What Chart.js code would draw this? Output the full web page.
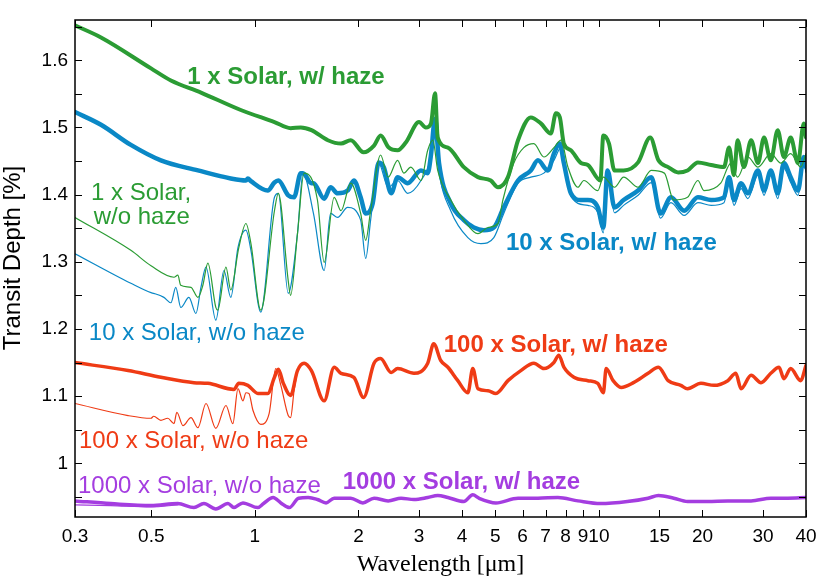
<!DOCTYPE html>
<html>
<head>
<meta charset="utf-8">
<title>Transit depth spectra</title>
<script src="https://cdn.jsdelivr.net/npm/chart.js@4.4.1/dist/chart.umd.min.js"></script>
<style>
  body { margin: 0; background: #fff; }
  #wrap { width: 830px; height: 583px; }
</style>
</head>
<body>
<div id="wrap"><canvas id="spectra" width="830" height="583"></canvas></div>
<script>
// wavelength [um] / transit depth [%]
const WL_1X_HAZE = [
  0.30, 0.357, 0.499, 0.570, 0.697, 0.910, 1.14, 1.27, 1.36, 1.46,
  1.63, 1.78, 1.90, 2.07, 2.22, 2.32, 2.45, 2.60, 2.75, 3.00,
  3.14, 3.25, 3.34, 3.40, 3.64, 4.05, 4.45, 4.85, 5.09, 5.44,
  5.82, 6.34, 6.78, 7.25, 7.50, 7.70, 7.91, 8.29, 8.87, 9.29,
  10.1, 10.3, 10.7, 11.1, 11.8, 13.0, 14.1, 14.9, 15.9, 17.0,
  18.1, 19.4, 21.2, 23.1, 23.9, 24.7, 25.3, 26.4, 27.7, 29.0,
  30.2, 31.6, 33.1, 34.5, 36.1, 37.9, 39.4, 40.0
];
const TD_1X_HAZE = [
  1.652, 1.634, 1.588, 1.570, 1.552, 1.526, 1.508, 1.499, 1.500, 1.496,
  1.481, 1.476, 1.481, 1.463, 1.473, 1.488, 1.470, 1.466, 1.478, 1.508,
  1.500, 1.506, 1.551, 1.485, 1.470, 1.441, 1.426, 1.421, 1.411, 1.426,
  1.481, 1.515, 1.506, 1.491, 1.521, 1.515, 1.476, 1.466, 1.447, 1.444,
  1.421, 1.488, 1.476, 1.436, 1.436, 1.448, 1.485, 1.451, 1.441, 1.433,
  1.436, 1.448, 1.444, 1.441, 1.470, 1.429, 1.481, 1.441, 1.481, 1.447,
  1.485, 1.451, 1.496, 1.456, 1.485, 1.447, 1.506, 1.485
];

const WL_1X_CLEAR = [
  0.30, 0.436, 0.499, 0.582, 0.597, 0.609, 0.652, 0.683, 0.706, 0.730,
  0.770, 0.780, 0.824, 0.851, 0.898, 0.942, 0.974, 1.04, 1.14, 1.17,
  1.25, 1.27, 1.33, 1.39, 1.52, 1.59, 1.70, 1.78, 1.90, 2.03,
  2.10, 2.17, 2.32, 2.44, 2.60, 2.71, 2.84, 3.04, 3.18, 3.29,
  3.40, 3.71, 4.05, 4.45, 4.76, 5.09, 5.26, 5.66, 6.05, 6.47,
  6.92, 7.40, 7.76, 8.13, 8.69, 9.04, 9.93, 10.3, 11.1, 11.8,
  13.0, 14.2, 15.5, 16.5, 18.1, 19.4, 20.2, 22.6, 24.2, 25.3,
  27.1, 29.0, 31.6, 33.8, 36.1, 38.6, 40.0
];
const TD_1X_CLEAR = [
  1.366, 1.317, 1.294, 1.277, 1.280, 1.265, 1.262, 1.247, 1.265, 1.298,
  1.232, 1.228, 1.292, 1.258, 1.321, 1.357, 1.327, 1.228, 1.376, 1.402,
  1.272, 1.250, 1.342, 1.432, 1.392, 1.299, 1.396, 1.376, 1.417, 1.372,
  1.332, 1.376, 1.459, 1.426, 1.451, 1.432, 1.441, 1.421, 1.466, 1.481,
  1.436, 1.392, 1.362, 1.342, 1.351, 1.357, 1.392, 1.447, 1.470, 1.476,
  1.456, 1.470, 1.481, 1.441, 1.411, 1.421, 1.406, 1.426, 1.411, 1.426,
  1.411, 1.436, 1.432, 1.392, 1.396, 1.421, 1.406, 1.417, 1.447, 1.426,
  1.456, 1.441, 1.461, 1.447, 1.461, 1.441, 1.461
];

const WL_10X_HAZE = [
  0.30, 0.357, 0.436, 0.533, 0.683, 0.851, 0.942, 0.954, 0.974, 1.09,
  1.14, 1.17, 1.25, 1.30, 1.36, 1.38, 1.46, 1.48, 1.59, 1.66,
  1.74, 1.86, 1.94, 2.03, 2.10, 2.20, 2.29, 2.37, 2.49, 2.60,
  2.78, 3.04, 3.18, 3.25, 3.34, 3.43, 3.71, 4.05, 4.33, 4.63,
  4.95, 5.29, 5.82, 6.34, 6.65, 7.11, 7.40, 7.70, 7.91, 8.29,
  8.87, 9.29, 9.93, 10.3, 10.6, 11.1, 11.8, 13.0, 14.2, 15.1,
  16.2, 17.7, 19.4, 21.2, 23.1, 23.9, 24.7, 25.9, 27.1, 29.0,
  30.2, 31.6, 33.1, 34.5, 36.1, 37.9, 39.4, 40.0
];
const TD_10X_HAZE = [
  1.523, 1.504, 1.474, 1.451, 1.436, 1.424, 1.421, 1.424, 1.420, 1.406,
  1.418, 1.421, 1.399, 1.396, 1.432, 1.432, 1.417, 1.417, 1.394, 1.411,
  1.402, 1.406, 1.421, 1.396, 1.372, 1.387, 1.448, 1.441, 1.402, 1.426,
  1.417, 1.436, 1.432, 1.459, 1.513, 1.447, 1.387, 1.362, 1.351, 1.347,
  1.351, 1.381, 1.421, 1.436, 1.451, 1.436, 1.461, 1.476, 1.447, 1.402,
  1.392, 1.392, 1.381, 1.351, 1.436, 1.381, 1.392, 1.406, 1.426, 1.372,
  1.396, 1.376, 1.396, 1.392, 1.396, 1.426, 1.392, 1.417, 1.402, 1.436,
  1.406, 1.436, 1.402, 1.447, 1.426, 1.406, 1.456, 1.441
];

const WL_10X_CLEAR = [
  0.30, 0.436, 0.499, 0.508, 0.544, 0.570, 0.589, 0.609, 0.643, 0.674,
  0.697, 0.721, 0.770, 0.813, 0.851, 0.893, 0.942, 0.974, 1.04, 1.14,
  1.17, 1.25, 1.33, 1.38, 1.48, 1.59, 1.66, 1.74, 1.86, 2.03,
  2.10, 2.17, 2.29, 2.44, 2.60, 2.78, 3.04, 3.25, 3.34, 3.43,
  3.71, 4.16, 4.54, 4.95, 5.29, 5.82, 6.34, 6.92, 7.40, 7.76,
  8.13, 8.69, 9.29, 9.93, 10.3, 10.6, 11.1, 11.8, 13.0, 14.2,
  15.1, 16.2, 17.7, 19.4, 21.2, 23.1, 23.9, 24.7, 25.9, 27.1,
  29.0, 30.2, 31.6, 33.1, 34.5, 36.1, 37.9, 39.4, 40.0
];
const TD_10X_CLEAR = [
  1.312, 1.268, 1.254, 1.253, 1.247, 1.239, 1.262, 1.232, 1.247, 1.223,
  1.262, 1.292, 1.213, 1.287, 1.247, 1.321, 1.347, 1.317, 1.225, 1.396,
  1.402, 1.253, 1.342, 1.432, 1.372, 1.287, 1.372, 1.366, 1.381, 1.362,
  1.305, 1.362, 1.447, 1.411, 1.421, 1.402, 1.421, 1.456, 1.500, 1.436,
  1.376, 1.336, 1.327, 1.336, 1.372, 1.417, 1.426, 1.432, 1.451, 1.470,
  1.411, 1.387, 1.384, 1.373, 1.343, 1.429, 1.373, 1.384, 1.399, 1.418,
  1.365, 1.388, 1.369, 1.388, 1.384, 1.388, 1.418, 1.384, 1.409, 1.394,
  1.429, 1.399, 1.429, 1.394, 1.439, 1.418, 1.399, 1.448, 1.433
];

const WL_100X_HAZE = [
  0.30, 0.428, 0.533, 0.665, 0.730, 0.869, 0.898, 0.954, 1.02, 1.09,
  1.14, 1.17, 1.21, 1.27, 1.33, 1.39, 1.46, 1.59, 1.70, 1.78,
  1.94, 2.07, 2.22, 2.32, 2.49, 2.60, 2.90, 3.18, 3.31, 3.47,
  3.64, 3.89, 4.16, 4.30, 4.45, 4.76, 5.02, 5.44, 5.93, 6.47,
  6.92, 7.40, 7.65, 7.91, 8.46, 9.29, 9.93, 10.3, 10.5, 11.0,
  11.6, 12.6, 13.9, 14.9, 15.9, 17.3, 18.1, 19.8, 21.6, 23.7,
  25.0, 25.9, 27.7, 29.6, 31.6, 33.4, 34.5, 36.1, 38.6, 40.0
];
const TD_100X_HAZE = [
  1.150, 1.138, 1.128, 1.120, 1.119, 1.110, 1.119, 1.116, 1.104, 1.104,
  1.128, 1.140, 1.119, 1.101, 1.138, 1.149, 1.138, 1.093, 1.143, 1.134,
  1.128, 1.098, 1.149, 1.156, 1.135, 1.141, 1.134, 1.149, 1.178, 1.153,
  1.143, 1.123, 1.105, 1.141, 1.111, 1.108, 1.104, 1.123, 1.138, 1.149,
  1.141, 1.150, 1.161, 1.143, 1.128, 1.123, 1.119, 1.105, 1.141, 1.123,
  1.113, 1.120, 1.134, 1.143, 1.123, 1.116, 1.111, 1.119, 1.116, 1.123,
  1.134, 1.111, 1.131, 1.120, 1.134, 1.143, 1.126, 1.141, 1.123, 1.146
];

const WL_100X_CLEAR = [
  0.30, 0.428, 0.499, 0.508, 0.533, 0.558, 0.582, 0.593, 0.618, 0.652,
  0.683, 0.721, 0.770, 0.824, 0.863, 0.893, 0.923, 0.942, 0.961, 0.987,
  1.04, 1.10, 1.15, 1.19, 1.25, 1.27, 1.30, 1.33
];
const TD_100X_CLEAR = [
  1.089, 1.071, 1.067, 1.070, 1.064, 1.067, 1.059, 1.076, 1.056, 1.068,
  1.053, 1.089, 1.052, 1.086, 1.059, 1.111, 1.093, 1.105, 1.104, 1.079,
  1.058, 1.074, 1.141, 1.116, 1.071, 1.068, 1.108, 1.138
];

const WL_1000X_HAZE = [
  0.30, 0.381, 0.499, 0.597, 0.665, 0.711, 0.770, 0.835, 0.869, 0.923,
  1.02, 1.06, 1.13, 1.19, 1.26, 1.34, 1.43, 1.52, 1.61, 1.70,
  1.90, 2.06, 2.22, 2.44, 2.66, 2.90, 3.18, 3.40, 3.64, 4.05,
  4.30, 4.48, 5.02, 5.82, 6.65, 7.60, 8.69, 10.1, 12.1, 13.9,
  14.9, 16.5, 18.1, 20.7, 23.7, 27.7, 31.6, 35.4, 40.0
];
const TD_1000X_HAZE = [
  0.944, 0.940, 0.937, 0.940, 0.934, 0.940, 0.932, 0.940, 0.934, 0.941,
  0.934, 0.940, 0.949, 0.941, 0.934, 0.948, 0.949, 0.946, 0.941, 0.948,
  0.948, 0.941, 0.948, 0.944, 0.948, 0.946, 0.949, 0.952, 0.949, 0.943,
  0.953, 0.948, 0.941, 0.948, 0.948, 0.949, 0.944, 0.940, 0.943, 0.948,
  0.952, 0.948, 0.943, 0.943, 0.944, 0.944, 0.948, 0.948, 0.949
];

const WL_1000X_CLEAR = [0.30, 0.381, 0.499, 0.597];
const TD_1000X_CLEAR = [0.938, 0.937, 0.935, 0.938];

const X_TICKS = [0.3, 0.5, 1, 2, 3, 4, 5, 6, 7, 8, 9, 10, 15, 20, 30, 40];
const X_TICK_LABELS = ['0.3', '0.5', '1', '2', '3', '4', '5', '6', '7', '8', '9', '10', '15', '20', '30', '40'];
const Y_MAJOR = [1, 1.1, 1.2, 1.3, 1.4, 1.5, 1.6];
const Y_MINOR = [0.95, 1.05, 1.15, 1.25, 1.35, 1.45, 1.55, 1.65];

const GREEN = '#2b9c34', BLUE = '#0a88c6', RED = '#ef3b15', PURPLE = '#a43de0';

// curve labels, anchored at (wavelength, depth) of the text's left baseline
const LABELS = [
  { text: '1 x Solar, w/ haze', wl: 0.636, td: 1.564, color: GREEN, bold: true },
  { text: '1 x Solar,', wl: 0.334, td: 1.392, color: GREEN },
  { text: 'w/o haze', wl: 0.340, td: 1.357, color: GREEN },
  { text: '10 x Solar, w/ haze', wl: 5.37, td: 1.317, color: BLUE, bold: true },
  { text: '10 x Solar, w/o haze', wl: 0.329, td: 1.183, color: BLUE },
  { text: '100 x Solar, w/ haze', wl: 3.54, td: 1.165, color: RED, bold: true },
  { text: '100 x Solar, w/o haze', wl: 0.308, td: 1.023, color: RED },
  { text: '1000 x Solar, w/ haze', wl: 1.80, td: 0.962, color: PURPLE, bold: true },
  { text: '1000 x Solar, w/o haze', wl: 0.306, td: 0.955, color: PURPLE }
];

const SANS = '"Liberation Sans", Arial, Helvetica, sans-serif';

function series(wl, td) {
  return wl.map((w, i) => ({ x: w, y: td[i] }));
}

//Ticks point inward on all four sides, plus frame, labels and titles
const decorations = {
  id: 'decorations',
  afterDatasetsDraw(chart) {
    const { ctx, chartArea: a, scales: { x, y } } = chart;
    ctx.save();
    ctx.strokeStyle = '#000';
    ctx.lineWidth = 1;
    ctx.beginPath();
    X_TICKS.forEach(v => {
      const px = Math.round(x.getPixelForValue(v)) + 0.5;
      ctx.moveTo(px, a.bottom); ctx.lineTo(px, a.bottom - 7);
      ctx.moveTo(px, a.top); ctx.lineTo(px, a.top + 7);
    });
    Y_MAJOR.concat(Y_MINOR).forEach(v => {
      const py = Math.round(y.getPixelForValue(v)) + 0.5;
      ctx.moveTo(a.left, py); ctx.lineTo(a.left + 7, py);
      ctx.moveTo(a.right, py); ctx.lineTo(a.right - 7, py);
    });
    ctx.stroke();
    ctx.lineWidth = 1.5;
    ctx.strokeRect(a.left, a.top, a.right - a.left, a.bottom - a.top);

    ctx.textAlign = 'left';
    ctx.textBaseline = 'alphabetic';
    LABELS.forEach(l => {
      ctx.font = (l.bold ? 'bold ' : '') + '24px ' + SANS;
      ctx.fillStyle = l.color;
      ctx.fillText(l.text, x.getPixelForValue(l.wl), y.getPixelForValue(l.td));
    });

    ctx.fillStyle = '#000';
    ctx.textAlign = 'center';
    ctx.font = '24px "Liberation Serif", "Times New Roman", serif';
    ctx.fillText('Wavelength [\u03bcm]', (a.left + a.right) / 2, 571);
    ctx.translate(20, 258);
    ctx.rotate(-Math.PI / 2);
    ctx.font = '24px ' + SANS;
    ctx.fillText('Transit Depth [%]', 0, 0);
    ctx.restore();
  }
};

const ctx = document.getElementById('spectra').getContext('2d');
new Chart(ctx, {
  type: 'line',
  data: {
    datasets: [
      { data: series(WL_1X_HAZE, TD_1X_HAZE), borderColor: GREEN, borderWidth: 4, order: 0 },
      { data: series(WL_1X_CLEAR, TD_1X_CLEAR), borderColor: GREEN, borderWidth: 1.2, order: 1 },
      { data: series(WL_10X_HAZE, TD_10X_HAZE), borderColor: BLUE, borderWidth: 4.5, order: 2 },
      { data: series(WL_10X_CLEAR, TD_10X_CLEAR), borderColor: BLUE, borderWidth: 1.2, order: 3 },
      { data: series(WL_100X_HAZE, TD_100X_HAZE), borderColor: RED, borderWidth: 3.5, order: 4 },
      { data: series(WL_100X_CLEAR, TD_100X_CLEAR), borderColor: RED, borderWidth: 1.2, order: 5 },
      { data: series(WL_1000X_HAZE, TD_1000X_HAZE), borderColor: PURPLE, borderWidth: 3.5, order: 6 },
      { data: series(WL_1000X_CLEAR, TD_1000X_CLEAR), borderColor: PURPLE, borderWidth: 1.2, order: 7 }
    ]
  },
  options: {
    responsive: false,
    animation: false,
    events: [],
    layout: { padding: { top: 20, right: 24, left: 0, bottom: 0 } },
    elements: {
      point: { radius: 0 },
      line: { cubicInterpolationMode: 'monotone', fill: false, borderJoinStyle: 'round', borderCapStyle: 'round' }
    },
    plugins: { legend: { display: false }, tooltip: { enabled: false } },
    scales: {
      x: {
        type: 'logarithmic',
        min: 0.3,
        max: 40,
        grid: { display: false, drawTicks: false },
        border: { display: false },
        afterBuildTicks: scale => { scale.ticks = X_TICKS.map(v => ({ value: v })); },
        afterFit: scale => { scale.height = 66; },
        ticks: {
          autoSkip: false,
          maxRotation: 0,
          padding: 8,
          color: '#000',
          font: { family: SANS, size: 19 },
          callback: (value) => X_TICK_LABELS[X_TICKS.indexOf(value)]
        }
      },
      y: {
        type: 'linear',
        min: 0.92,
        max: 1.66,
        grid: { display: false, drawTicks: false },
        border: { display: false },
        afterBuildTicks: scale => { scale.ticks = Y_MAJOR.map(v => ({ value: v })); },
        afterFit: scale => { scale.width = 75; },
        ticks: {
          padding: 7,
          color: '#000',
          font: { family: SANS, size: 19 },
          callback: (value) => String(+value.toFixed(2))
        }
      }
    }
  },
  plugins: [decorations]
});
</script>
</body>
</html>
